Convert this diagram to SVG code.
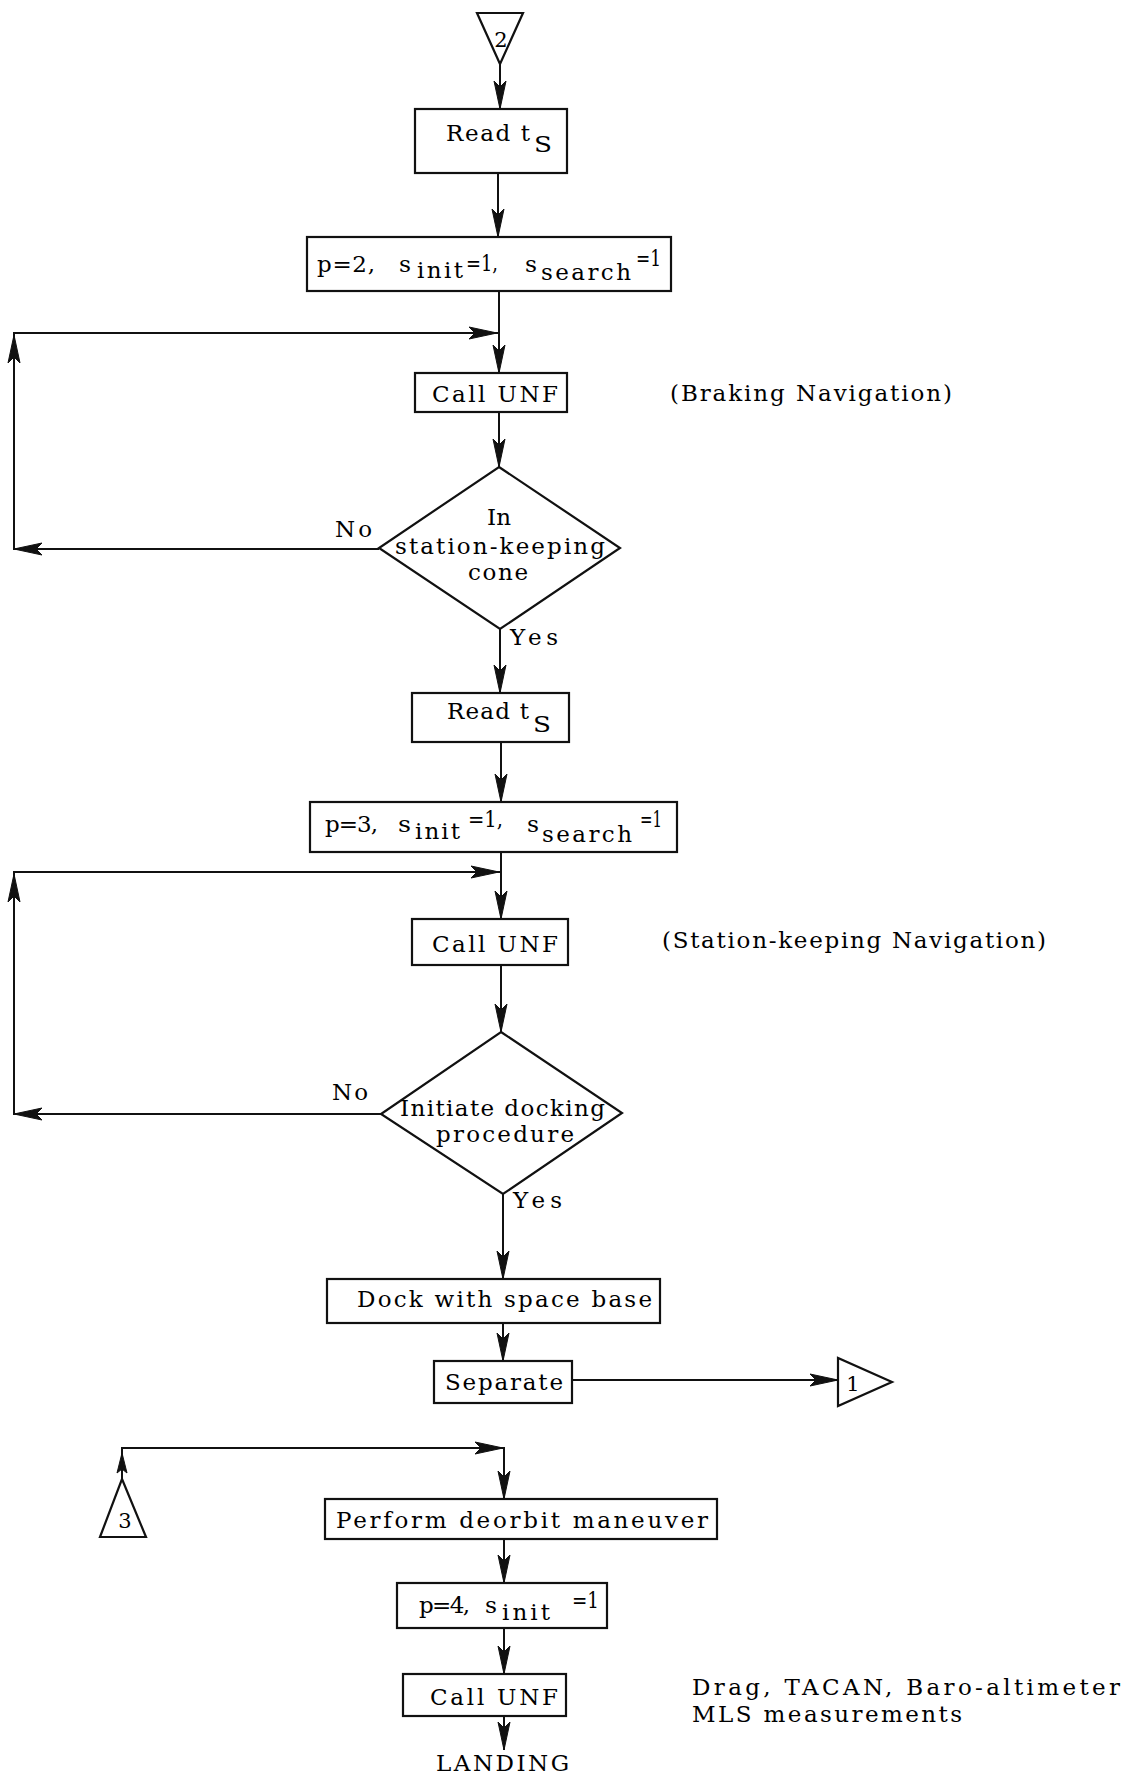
<svg xmlns="http://www.w3.org/2000/svg" xmlns:xlink="http://www.w3.org/1999/xlink" width="1138" height="1778" viewBox="0 0 1138 1778">
<style>
.box{fill:none;stroke:#111;stroke-width:2.2}
.ln{fill:none;stroke:#111;stroke-width:2}
.t{font-family:"DejaVu Serif","Liberation Serif",serif;font-size:23px;fill:#000}
.s{font-family:"DejaVu Serif","Liberation Serif",serif;font-size:21px;fill:#000}
.c{text-anchor:middle}
</style>
<defs>
<path id="ah" d="M0,0 L-28,-6 L-22,0 L-28,6 Z" fill="#111" stroke="#111" stroke-width="1" stroke-linejoin="miter"/>
<path id="ahs" d="M0,0 L-20,-5 L-16,0 L-20,5 Z" fill="#111" stroke="#111" stroke-width="1"/>
</defs>
<rect width="1138" height="1778" fill="#fff"/>

<g id="connectors">
<path class="ln" d="M500,64 V109"/>
<use href="#ah" transform="translate(500,109) rotate(90)"/>
<path class="ln" d="M498,173 V237"/>
<use href="#ah" transform="translate(498,237) rotate(90)"/>
<path class="ln" d="M499,291 V373"/>
<use href="#ah" transform="translate(499,373) rotate(90)"/>
<path class="ln" d="M379,549 H14 V333 H499"/>
<use href="#ah" transform="translate(497,333)"/>
<use href="#ah" transform="translate(14,335) rotate(-90)"/>
<use href="#ah" transform="translate(14,549) rotate(180)"/>
<path class="ln" d="M499,412 V467"/>
<use href="#ah" transform="translate(499,467) rotate(90)"/>
<path class="ln" d="M500,629 V693"/>
<use href="#ah" transform="translate(500,693) rotate(90)"/>
<path class="ln" d="M501,742 V802"/>
<use href="#ah" transform="translate(501,802) rotate(90)"/>
<path class="ln" d="M501,852 V919"/>
<use href="#ah" transform="translate(501,919) rotate(90)"/>
<path class="ln" d="M381,1114 H14 V872 H501"/>
<use href="#ah" transform="translate(499,872)"/>
<use href="#ah" transform="translate(14,874) rotate(-90)"/>
<use href="#ah" transform="translate(14,1114) rotate(180)"/>
<path class="ln" d="M501,965 V1032"/>
<use href="#ah" transform="translate(501,1032) rotate(90)"/>
<path class="ln" d="M503,1194 V1279"/>
<use href="#ah" transform="translate(503,1279) rotate(90)"/>
<path class="ln" d="M503,1323 V1361"/>
<use href="#ah" transform="translate(503,1361) rotate(90)"/>
<path class="ln" d="M572,1380 H838"/>
<use href="#ah" transform="translate(838,1380)"/>
<path class="ln" d="M122,1479 V1448 H504 V1499"/>
<use href="#ahs" transform="translate(122,1453) rotate(-90)"/>
<use href="#ah" transform="translate(503,1448)"/>
<use href="#ah" transform="translate(504,1499) rotate(90)"/>
<path class="ln" d="M504,1539 V1583"/>
<use href="#ah" transform="translate(504,1583) rotate(90)"/>
<path class="ln" d="M504,1628 V1674"/>
<use href="#ah" transform="translate(504,1674) rotate(90)"/>
<path class="ln" d="M504,1716 V1750"/>
<use href="#ah" transform="translate(504,1750) rotate(90)"/>
</g>

<g id="conn2">
<polygon class="box" points="477,13 523,13 500,64"/>
<text class="s c" x="501" y="47">2</text>
</g>

<g id="read1">
<rect class="box" x="415" y="109" width="152" height="64"/>
<text class="t" x="446" y="141" textLength="84" lengthAdjust="spacing">Read t</text>
<text class="t" x="534" y="152" textLength="18" lengthAdjust="spacingAndGlyphs">S</text>
</g>

<g id="set2">
<rect class="box" x="307" y="237" width="364" height="54"/>
<text class="t" x="317" y="272" textLength="58" lengthAdjust="spacing">p=2,</text>
<text class="t" x="399" y="272" textLength="12" lengthAdjust="spacingAndGlyphs">s</text>
<text class="t" x="417" y="278" textLength="46" lengthAdjust="spacing">init</text>
<text class="t" x="466" y="271" textLength="32" lengthAdjust="spacingAndGlyphs">=1,</text>
<text class="t" x="525" y="272" textLength="12" lengthAdjust="spacingAndGlyphs">s</text>
<text class="t" x="541" y="280" textLength="90" lengthAdjust="spacing">search</text>
<text class="t" x="636" y="266" textLength="25" lengthAdjust="spacingAndGlyphs">=1</text>
</g>

<g id="unf1">
<rect class="box" x="415" y="373" width="152" height="39"/>
<text class="t" x="432" y="402" textLength="126" lengthAdjust="spacing">Call UNF</text>
</g>
<text id="note1" class="t" x="670" y="401" textLength="282" lengthAdjust="spacing">(Braking Navigation)</text>

<g id="dec1">
<polygon class="box" points="499,467 620,548 500,629 379,548"/>
<text class="t c" x="499" y="525">In</text>
<text class="t" x="395" y="554" textLength="210" lengthAdjust="spacing">station-keeping</text>
<text class="t" x="468" y="580" textLength="60" lengthAdjust="spacing">cone</text>
<text class="t" x="335" y="537" textLength="37" lengthAdjust="spacing">No</text>
<text class="t" x="510" y="645" textLength="48" lengthAdjust="spacing">Yes</text>
</g>

<g id="read2">
<rect class="box" x="412" y="693" width="157" height="49"/>
<text class="t" x="447" y="719" textLength="82" lengthAdjust="spacing">Read t</text>
<text class="t" x="533" y="732" textLength="18" lengthAdjust="spacingAndGlyphs">S</text>
</g>

<g id="set3">
<rect class="box" x="310" y="802" width="367" height="50"/>
<text class="t" x="325" y="832" textLength="53" lengthAdjust="spacing">p=3,</text>
<text class="t" x="398" y="832" textLength="13" lengthAdjust="spacingAndGlyphs">s</text>
<text class="t" x="415" y="839" textLength="45" lengthAdjust="spacing">init</text>
<text class="t" x="468" y="827" textLength="35" lengthAdjust="spacingAndGlyphs">=1,</text>
<text class="t" x="527" y="832" textLength="12" lengthAdjust="spacingAndGlyphs">s</text>
<text class="t" x="542" y="842" textLength="90" lengthAdjust="spacing">search</text>
<text class="t" x="640" y="827" textLength="22" lengthAdjust="spacingAndGlyphs">=1</text>
</g>

<g id="unf2">
<rect class="box" x="412" y="919" width="156" height="46"/>
<text class="t" x="432" y="952" textLength="126" lengthAdjust="spacing">Call UNF</text>
</g>
<text id="note2" class="t" x="662" y="948" textLength="384" lengthAdjust="spacing">(Station-keeping Navigation)</text>

<g id="dec2">
<polygon class="box" points="501,1032 622,1113 503,1194 381,1114"/>
<text class="t" x="400" y="1116" textLength="205" lengthAdjust="spacing">Initiate docking</text>
<text class="t" x="436" y="1142" textLength="138" lengthAdjust="spacing">procedure</text>
<text class="t" x="332" y="1100" textLength="36" lengthAdjust="spacing">No</text>
<text class="t" x="513" y="1208" textLength="49" lengthAdjust="spacing">Yes</text>
</g>

<g id="dock">
<rect class="box" x="327" y="1279" width="333" height="44"/>
<text class="t" x="357" y="1307" textLength="295" lengthAdjust="spacing">Dock with space base</text>
</g>

<g id="separate">
<rect class="box" x="434" y="1361" width="138" height="42"/>
<text class="t" x="445" y="1390" textLength="118" lengthAdjust="spacing">Separate</text>
</g>

<g id="conn1">
<polygon class="box" points="838,1358 838,1406 892,1382"/>
<text class="s c" x="853" y="1391">1</text>
</g>

<g id="conn3">
<polygon class="box" points="122,1479 146,1537 100,1537"/>
<text class="s c" x="125" y="1528">3</text>
</g>

<g id="deorbit">
<rect class="box" x="325" y="1499" width="392" height="40"/>
<text class="t" x="336" y="1528" textLength="372" lengthAdjust="spacing">Perform deorbit maneuver</text>
</g>

<g id="set4">
<rect class="box" x="397" y="1583" width="210" height="45"/>
<text class="t" x="419" y="1613" textLength="51" lengthAdjust="spacing">p=4,</text>
<text class="t" x="485" y="1613" textLength="12" lengthAdjust="spacingAndGlyphs">s</text>
<text class="t" x="502" y="1620" textLength="48" lengthAdjust="spacing">init</text>
<text class="t" x="572" y="1608" textLength="27" lengthAdjust="spacingAndGlyphs">=1</text>
</g>

<g id="unf3">
<rect class="box" x="403" y="1674" width="163" height="42"/>
<text class="t" x="430" y="1705" textLength="128" lengthAdjust="spacing">Call UNF</text>
</g>
<g id="note3">
<text class="t" x="692" y="1695" textLength="428" lengthAdjust="spacing">Drag, TACAN, Baro-altimeter</text>
<text class="t" x="692" y="1722" textLength="270" lengthAdjust="spacing">MLS measurements</text>
</g>

<g id="landing">
<text class="t" x="436" y="1771" textLength="133" lengthAdjust="spacing">LANDING</text>
</g>
</svg>
